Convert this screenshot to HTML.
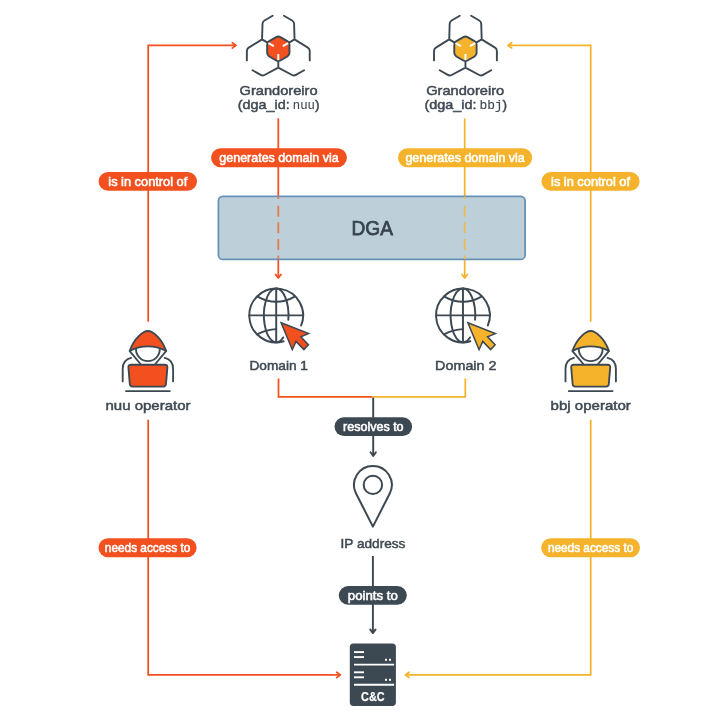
<!DOCTYPE html>
<html lang="en"><head><meta charset="utf-8"><title>Grandoreiro DGA overview</title>
<style>html,body{margin:0;padding:0;background:#fff}svg{display:block;will-change:transform;opacity:.999}text{font-family:"Liberation Sans",sans-serif}.mono{font-family:"Liberation Mono","DejaVu Sans Mono",monospace}</style></head><body>
<svg width="728" height="720" viewBox="0 0 728 720">
<rect width="728" height="720" fill="#fff"/>
<path d="M148.2,321.7V45.4H236" fill="none" stroke="#F2501F" stroke-width="1.75" />
<path d="M232.3,42.7L236,45.4L232.3,48.1" fill="none" stroke="#F2501F" stroke-width="1.75" stroke-linecap="round" stroke-linejoin="round"/>
<path d="M148.2,419.7V674.9H340" fill="none" stroke="#F2501F" stroke-width="1.75" />
<path d="M336.7,672.2L340.4,674.9L336.7,677.6" fill="none" stroke="#F2501F" stroke-width="1.75" stroke-linecap="round" stroke-linejoin="round"/>
<path d="M590.7,321.7V45.4H508" fill="none" stroke="#F5B32C" stroke-width="1.75" />
<path d="M511.7,42.7L508,45.4L511.7,48.1" fill="none" stroke="#F5B32C" stroke-width="1.75" stroke-linecap="round" stroke-linejoin="round"/>
<path d="M590.7,419.7V674.9H405.8" fill="none" stroke="#F5B32C" stroke-width="1.75" />
<path d="M409.1,672.2L405.4,674.9L409.1,677.6" fill="none" stroke="#F5B32C" stroke-width="1.75" stroke-linecap="round" stroke-linejoin="round"/>
<path d="M278.3,118.3V196" fill="none" stroke="#F2501F" stroke-width="1.75" />
<path d="M278.3,259.5V277.6" fill="none" stroke="#F2501F" stroke-width="1.75" />
<path d="M275.6,274.4L278.3,278.1L281,274.4" fill="none" stroke="#F2501F" stroke-width="1.75" stroke-linecap="round" stroke-linejoin="round"/>
<path d="M464.7,118.3V196" fill="none" stroke="#F5B32C" stroke-width="1.75" />
<path d="M464.7,259.5V277.6" fill="none" stroke="#F5B32C" stroke-width="1.75" />
<path d="M462,274.4L464.7,278.1L467.4,274.4" fill="none" stroke="#F5B32C" stroke-width="1.75" stroke-linecap="round" stroke-linejoin="round"/>
<rect x="218.4" y="196.3" width="306.7" height="63.1" rx="4.5" fill="#BDD0DA" stroke="#6891B7" stroke-width="1.8"/>
<path d="M278.3,196.5V259" fill="none" stroke="#E8774F" stroke-width="1.75" stroke-dasharray="2.6 6.6 11 5.6 11 5.6 11 5.6 6 0"/>
<path d="M464.7,196.5V259" fill="none" stroke="#ECBA55" stroke-width="1.75" stroke-dasharray="2.6 6.6 11 5.6 11 5.6 11 5.6 6 0"/>
<text x="372.2" y="234.5" text-anchor="middle" font-size="19.3" fill="#38454F" stroke="#38454F" stroke-width="0.75" textLength="41.4" lengthAdjust="spacingAndGlyphs">DGA</text>
<path d="M278.5,378.6V396.85H372.3" fill="none" stroke="#F2501F" stroke-width="1.75" />
<path d="M465.3,378.6V396.85H372.3" fill="none" stroke="#F5B32C" stroke-width="1.75" />
<path d="M373.2,397.6V455.6" fill="none" stroke="#3C4852" stroke-width="1.95" />
<path d="M370.5,452.3L373.2,456L375.9,452.3" fill="none" stroke="#3C4852" stroke-width="1.9" stroke-linecap="round" stroke-linejoin="round"/>
<path d="M372.9,556V632.7" fill="none" stroke="#3C4852" stroke-width="1.95" />
<path d="M370.2,629.4L372.9,633.1L375.6,629.4" fill="none" stroke="#3C4852" stroke-width="1.9" stroke-linecap="round" stroke-linejoin="round"/>
<rect x="211.1" y="148.3" width="135.8" height="18.9" rx="9.45" fill="#F2501F"/>
<text x="279" y="162.17" text-anchor="middle" font-size="12.4" fill="#fff" stroke="#fff" stroke-width="0.55" textLength="119.4" lengthAdjust="spacingAndGlyphs">generates domain via</text>
<rect x="398" y="148.3" width="134.2" height="18.9" rx="9.45" fill="#F5B32C"/>
<text x="465.1" y="162.17" text-anchor="middle" font-size="12.4" fill="#fff" stroke="#fff" stroke-width="0.55" textLength="119.4" lengthAdjust="spacingAndGlyphs">generates domain via</text>
<rect x="98.6" y="172" width="98.4" height="18.8" rx="9.4" fill="#F2501F"/>
<text x="147.8" y="185.82" text-anchor="middle" font-size="12.4" fill="#fff" stroke="#fff" stroke-width="0.55" textLength="79" lengthAdjust="spacingAndGlyphs">is in control of</text>
<rect x="541.5" y="172" width="98.1" height="18.8" rx="9.4" fill="#F5B32C"/>
<text x="590.55" y="185.82" text-anchor="middle" font-size="12.4" fill="#fff" stroke="#fff" stroke-width="0.55" textLength="79" lengthAdjust="spacingAndGlyphs">is in control of</text>
<rect x="98.5" y="538.2" width="98.1" height="19" rx="9.5" fill="#F2501F"/>
<text x="147.55" y="552.12" text-anchor="middle" font-size="12.4" fill="#fff" stroke="#fff" stroke-width="0.55" textLength="85.4" lengthAdjust="spacingAndGlyphs">needs access to</text>
<rect x="541.2" y="538.2" width="98.8" height="19" rx="9.5" fill="#F5B32C"/>
<text x="590.6" y="552.12" text-anchor="middle" font-size="12.4" fill="#fff" stroke="#fff" stroke-width="0.55" textLength="85.4" lengthAdjust="spacingAndGlyphs">needs access to</text>
<rect x="334.5" y="417.2" width="77.6" height="18.7" rx="9.35" fill="#3C4852"/>
<text x="373.3" y="430.97" text-anchor="middle" font-size="12.4" fill="#fff" stroke="#fff" stroke-width="0.55" textLength="60.6" lengthAdjust="spacingAndGlyphs">resolves to</text>
<rect x="338.8" y="585.9" width="68" height="18.9" rx="9.45" fill="#3C4852"/>
<text x="372.8" y="599.77" text-anchor="middle" font-size="12.4" fill="#fff" stroke="#fff" stroke-width="0.55" textLength="50" lengthAdjust="spacingAndGlyphs">points to</text>
<g transform="translate(278.3,48.8)" fill="none" stroke="#3C4852" stroke-width="1.9" stroke-linecap="round" stroke-linejoin="round">
<path transform="rotate(0)" d="M-25.78,21.42L-17.62,26.12Q-15.72,27.22 -13.78,26.18L0,18.75M25.78,21.42L17.62,26.12Q15.72,27.22 13.78,26.18L0,18.75M0,18.75L0,12.9"/>
<path transform="rotate(120)" d="M-25.78,21.42L-17.62,26.12Q-15.72,27.22 -13.78,26.18L0,18.75M25.78,21.42L17.62,26.12Q15.72,27.22 13.78,26.18L0,18.75M0,18.75L0,12.9"/>
<path transform="rotate(240)" d="M-25.78,21.42L-17.62,26.12Q-15.72,27.22 -13.78,26.18L0,18.75M25.78,21.42L17.62,26.12Q15.72,27.22 13.78,26.18L0,18.75M0,18.75L0,12.9"/>
<path d="M-2.08,-11.7L-9.09,-7.65Q-11.17,-6.45 -11.17,-4.05L-11.17,4.05Q-11.17,6.45 -9.09,7.65L-2.08,11.7Q-0,12.9 2.08,11.7L9.09,7.65Q11.17,6.45 11.17,4.05L11.17,-4.05Q11.17,-6.45 9.09,-7.65L2.08,-11.7Q0,-12.9 -2.08,-11.7Z" fill="#F2501F"/>
<path transform="rotate(0)" d="M0,5.2L0,11.4" stroke="#fff" stroke-width="2" stroke-linecap="butt"/>
<path transform="rotate(120)" d="M0,5.2L0,11.4" stroke="#fff" stroke-width="2" stroke-linecap="butt"/>
<path transform="rotate(240)" d="M0,5.2L0,11.4" stroke="#fff" stroke-width="2" stroke-linecap="butt"/>
</g>
<g transform="translate(465.45,48.8)" fill="none" stroke="#3C4852" stroke-width="1.9" stroke-linecap="round" stroke-linejoin="round">
<path transform="rotate(0)" d="M-25.78,21.42L-17.62,26.12Q-15.72,27.22 -13.78,26.18L0,18.75M25.78,21.42L17.62,26.12Q15.72,27.22 13.78,26.18L0,18.75M0,18.75L0,12.9"/>
<path transform="rotate(120)" d="M-25.78,21.42L-17.62,26.12Q-15.72,27.22 -13.78,26.18L0,18.75M25.78,21.42L17.62,26.12Q15.72,27.22 13.78,26.18L0,18.75M0,18.75L0,12.9"/>
<path transform="rotate(240)" d="M-25.78,21.42L-17.62,26.12Q-15.72,27.22 -13.78,26.18L0,18.75M25.78,21.42L17.62,26.12Q15.72,27.22 13.78,26.18L0,18.75M0,18.75L0,12.9"/>
<path d="M-2.08,-11.7L-9.09,-7.65Q-11.17,-6.45 -11.17,-4.05L-11.17,4.05Q-11.17,6.45 -9.09,7.65L-2.08,11.7Q-0,12.9 2.08,11.7L9.09,7.65Q11.17,6.45 11.17,4.05L11.17,-4.05Q11.17,-6.45 9.09,-7.65L2.08,-11.7Q0,-12.9 -2.08,-11.7Z" fill="#F5B32C"/>
<path transform="rotate(0)" d="M0,5.2L0,11.4" stroke="#fff" stroke-width="2" stroke-linecap="butt"/>
<path transform="rotate(120)" d="M0,5.2L0,11.4" stroke="#fff" stroke-width="2" stroke-linecap="butt"/>
<path transform="rotate(240)" d="M0,5.2L0,11.4" stroke="#fff" stroke-width="2" stroke-linecap="butt"/>
</g>
<g transform="translate(276.2,315.4)" fill="none" stroke="#3C4852" stroke-width="1.95" stroke-linecap="round" stroke-linejoin="round">
<path d="M7.41,25.86A26.9,26.9 0 1 1 24.94,10.08"/>
<path d="M0,-26.9V26.9M-26.9,0H26.9"/>
<path d="M12.13,4.4A12.3,26.9 0 1 0 7.05,22.04"/>
<path d="M-19.04,-19Q0,-8.2 19.04,-19"/>
<path d="M-19.04,19Q-9.52,13.9 0,13.7"/>
<polygon points="4.95,7.35 32.4,18.2 24.6,21.4 32.2,29.4 27.7,34.2 19.8,26 16.1,34.3" fill="#F2501F" stroke-width="1.5" stroke-linejoin="miter"/>
</g>
<g transform="translate(462.95,315.4)" fill="none" stroke="#3C4852" stroke-width="1.95" stroke-linecap="round" stroke-linejoin="round">
<path d="M7.41,25.86A26.9,26.9 0 1 1 24.94,10.08"/>
<path d="M0,-26.9V26.9M-26.9,0H26.9"/>
<path d="M12.13,4.4A12.3,26.9 0 1 0 7.05,22.04"/>
<path d="M-19.04,-19Q0,-8.2 19.04,-19"/>
<path d="M-19.04,19Q-9.52,13.9 0,13.7"/>
<polygon points="4.95,7.35 32.4,18.2 24.6,21.4 32.2,29.4 27.7,34.2 19.8,26 16.1,34.3" fill="#F5B32C" stroke-width="1.5" stroke-linejoin="miter"/>
</g>
<g transform="translate(147.9,0)" fill="none" stroke="#3C4852" stroke-width="1.85" stroke-linecap="round" stroke-linejoin="round">
<circle cx="0" cy="349.3" r="11.9" fill="#fff"/>
<path d="M-18.2,351.2L-7.4,364M18.2,351.2L7.4,364"/>
<path d="M0,331C4.98,331 14.07,338.6 18.2,350.8A41,41 0 0 0 -18.2,350.8C-14.07,338.6 -4.98,331 0,331Z" fill="#F2501F"/>
<path d="M-16.8,357.9C-21.8,359 -25.2,363 -25.2,369V381.4M16.8,357.9C21.8,359 25.2,363 25.2,369V381.4"/>
<path d="M-16.9,364.7H16.9Q19.7,364.7 19.5,367.4L18.1,384Q17.9,386.6 15.3,386.6H-15.3Q-17.9,386.6 -18.1,384L-19.5,367.4Q-19.7,364.7 -16.9,364.7Z" fill="#F2501F"/>
<path d="M-22.6,391.1H22.6" stroke-width="1.9" stroke-linecap="butt"/>
</g>
<g transform="translate(590.7,0)" fill="none" stroke="#3C4852" stroke-width="1.85" stroke-linecap="round" stroke-linejoin="round">
<circle cx="0" cy="349.3" r="11.9" fill="#fff"/>
<path d="M-18.2,351.2L-7.4,364M18.2,351.2L7.4,364"/>
<path d="M0,331C4.98,331 14.07,338.6 18.2,350.8A41,41 0 0 0 -18.2,350.8C-14.07,338.6 -4.98,331 0,331Z" fill="#F5B32C"/>
<path d="M-16.8,357.9C-21.8,359 -25.2,363 -25.2,369V381.4M16.8,357.9C21.8,359 25.2,363 25.2,369V381.4"/>
<path d="M-16.9,364.7H16.9Q19.7,364.7 19.5,367.4L18.1,384Q17.9,386.6 15.3,386.6H-15.3Q-17.9,386.6 -18.1,384L-19.5,367.4Q-19.7,364.7 -16.9,364.7Z" fill="#F5B32C"/>
<path d="M-22.6,391.1H22.6" stroke-width="1.9" stroke-linecap="butt"/>
</g>
<path d="M372.9,526.6L356.05,493.47A18.9,18.9 0 1 1 389.75,493.47Z" fill="none" stroke="#3C4852" stroke-width="2" stroke-linejoin="round"/>
<circle cx="372.9" cy="484.9" r="9.2" fill="none" stroke="#3C4852" stroke-width="2"/>
<rect x="349.8" y="643.5" width="46.1" height="62.4" rx="3.6" fill="#3C4852"/>
<g stroke="#fff" stroke-width="1.9" fill="#fff">
<path d="M354,652.1H364"/>
<path d="M354,657.1H364"/>
<path d="M354,672.3H364"/>
<path d="M354,677.3H364"/>
<path d="M354,664.6H394.1"/>
<path d="M354,684.7H394.1"/>
</g>
<rect x="385" y="658.8" width="2" height="2" fill="#fff"/>
<rect x="389" y="658.8" width="2" height="2" fill="#fff"/>
<rect x="385" y="678.8" width="2" height="2" fill="#fff"/>
<rect x="389" y="678.8" width="2" height="2" fill="#fff"/>
<text x="372.8" y="700.6" text-anchor="middle" font-size="12" font-weight="bold" fill="#fff" stroke="#fff" stroke-width="0.25" textLength="23.4" lengthAdjust="spacingAndGlyphs">C&amp;C</text>
<text x="278.6" y="95.3" text-anchor="middle" font-size="13.6" fill="#3F4952" stroke="#3F4952" stroke-width="0.5" textLength="78" lengthAdjust="spacingAndGlyphs">Grandoreiro</text>
<text x="237.8" y="109.3" font-size="13.6" fill="#3F4952" stroke="#3F4952" stroke-width="0.5"><tspan textLength="52" lengthAdjust="spacingAndGlyphs">(dga_id:</tspan><tspan class="mono" font-size="12.3" stroke-width="0.1" dx="3">nuu</tspan><tspan>)</tspan></text>
<text x="465.2" y="95.3" text-anchor="middle" font-size="13.6" fill="#3F4952" stroke="#3F4952" stroke-width="0.5" textLength="78" lengthAdjust="spacingAndGlyphs">Grandoreiro</text>
<text x="424.4" y="109.3" font-size="13.6" fill="#3F4952" stroke="#3F4952" stroke-width="0.5"><tspan textLength="52" lengthAdjust="spacingAndGlyphs">(dga_id:</tspan><tspan class="mono" font-size="12.9" stroke-width="0.15" dx="3">bbj</tspan><tspan>)</tspan></text>
<text x="278.7" y="369.6" text-anchor="middle" font-size="13.6" fill="#3F4952" stroke="#3F4952" stroke-width="0.5" textLength="58.6" lengthAdjust="spacingAndGlyphs">Domain 1</text>
<text x="465.8" y="369.6" text-anchor="middle" font-size="13.6" fill="#3F4952" stroke="#3F4952" stroke-width="0.5" textLength="61.4" lengthAdjust="spacingAndGlyphs">Domain 2</text>
<text x="148" y="410.3" text-anchor="middle" font-size="13.6" fill="#3F4952" stroke="#3F4952" stroke-width="0.5" textLength="85" lengthAdjust="spacingAndGlyphs">nuu operator</text>
<text x="590.7" y="410.3" text-anchor="middle" font-size="13.6" fill="#3F4952" stroke="#3F4952" stroke-width="0.5" textLength="80.2" lengthAdjust="spacingAndGlyphs">bbj operator</text>
<text x="373" y="547.7" text-anchor="middle" font-size="13.6" fill="#3F4952" stroke="#3F4952" stroke-width="0.5" textLength="64.8" lengthAdjust="spacingAndGlyphs">IP address</text>
</svg></body></html>
